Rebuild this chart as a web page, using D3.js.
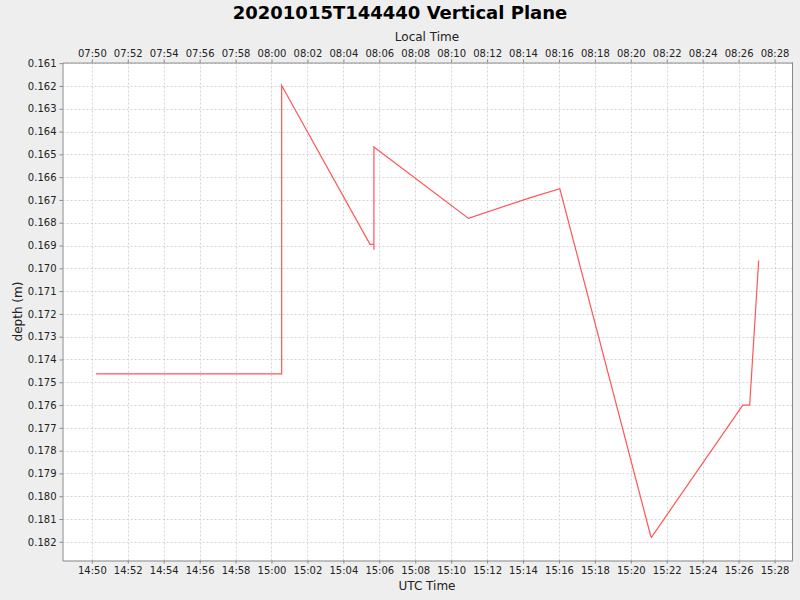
<!DOCTYPE html>
<html><head><meta charset="utf-8">
<script src="https://cdn.jsdelivr.net/npm/d3@7"></script>
<style>
html,body{margin:0;padding:0;background:#eeeeee;}
svg{display:block;font-family:"DejaVu Sans",sans-serif;}
</style></head>
<body><svg id="c" width="800" height="600"></svg>
<script>
const title = "20201015T144440 Vertical Plane";
const utcTimes = ["14:50:14","15:00:34","15:00:34","15:05:29","15:05:42","15:05:42","15:05:42","15:10:58","15:14:15","15:14:25","15:16:03","15:21:06","15:21:09","15:26:14","15:26:37","15:27:07"];
const depths = [0.17463,0.17463,0.16198,0.16895,0.16895,0.16919,0.16468,0.16781,0.16694,0.16690,0.16651,0.18172,0.18180,0.17600,0.17600,0.16966];
const yTicks = [0.161,0.162,0.163,0.164,0.165,0.166,0.167,0.168,0.169,0.170,0.171,0.172,0.173,0.174,0.175,0.176,0.177,0.178,0.179,0.180,0.181,0.182];
const xDomainUtc = ["14:48:22","15:29:00"];
const yDomain = [0.16097,0.18282];
const localOffsetHours = -7;
const day = "2020-10-15T";

const parse = s => new Date(day + s + "Z");
const svg = d3.select("#c");
const L = 62.5, R = 792.5, T = 62.5, B = 560.5;

const x = d3.scaleUtc().domain(xDomainUtc.map(parse)).range([L, R]);
const xLocal = d3.scaleUtc().domain(xDomainUtc.map(s => new Date(parse(s).getTime() + localOffsetHours*3600e3))).range([L, R]);
const y = d3.scaleLinear().domain(yDomain).range([T, B]);

svg.append("rect").attr("x", L).attr("y", T).attr("width", R-L).attr("height", B-T).attr("fill", "#fff");

const xt = x.ticks(d3.utcMinute.every(2));
const g = svg.append("g");
g.selectAll(".vg").data(xt).join("line").attr("x1", d => Math.round(x(d))+0.5).attr("x2", d => Math.round(x(d))+0.5)
  .attr("y1", T).attr("y2", B).attr("stroke", "#d4d4d4").attr("stroke-dasharray", "2,2");
g.selectAll(".hg").data(yTicks).join("line").attr("y1", d => Math.round(y(d))+0.5).attr("y2", d => Math.round(y(d))+0.5)
  .attr("x1", L).attr("x2", R).attr("stroke", "#d4d4d4").attr("stroke-dasharray", "2,2");

const fmt = d3.utcFormat("%H:%M");
const axBottom = svg.append("g").attr("transform", `translate(0,${B})`)
  .call(d3.axisBottom(x).ticks(d3.utcMinute.every(2)).tickFormat(fmt).tickSizeInner(3).tickSizeOuter(0).tickPadding(3));
const axTop = svg.append("g").attr("transform", `translate(0,${T})`)
  .call(d3.axisTop(xLocal).ticks(d3.utcMinute.every(2)).tickFormat(fmt).tickSizeInner(3).tickSizeOuter(0).tickPadding(3));
const axLeft = svg.append("g").attr("transform", `translate(${L},0)`)
  .call(d3.axisLeft(y).tickValues(yTicks).tickFormat(d3.format(".3f")).tickSizeInner(3).tickSizeOuter(0).tickPadding(3));
[axBottom, axTop, axLeft].forEach(a => {
  a.selectAll("text").attr("font-size", 10).attr("font-family", "DejaVu Sans").attr("fill", "#222");
  a.selectAll("line").attr("stroke", "#888");
  a.select(".domain").attr("stroke", "#888");
});
svg.append("line").attr("x1", R).attr("x2", R).attr("y1", T).attr("y2", B).attr("stroke", "#888");

const pts = utcTimes.map((t, i) => [parse(t), depths[i]]);
svg.append("path").datum(pts).attr("fill", "none").attr("stroke", "#ff5555").attr("stroke-width", 1.2)
  .attr("d", d3.line().x(d => x(d[0])).y(d => y(d[1])));

svg.append("text").attr("x", 400).attr("y", 19).attr("text-anchor", "middle").attr("font-size", 18).attr("font-weight", "bold").attr("fill", "#000").text(title);
svg.append("text").attr("x", 427).attr("y", 41).attr("text-anchor", "middle").attr("font-size", 12).attr("fill", "#222").text("Local Time");
svg.append("text").attr("x", 427).attr("y", 590).attr("text-anchor", "middle").attr("font-size", 12).attr("fill", "#222").text("UTC Time");
svg.append("text").attr("transform", `translate(22,${(T+B)/2}) rotate(-90)`).attr("text-anchor", "middle").attr("font-size", 12).attr("fill", "#222").text("depth (m)");
</script></body></html>
